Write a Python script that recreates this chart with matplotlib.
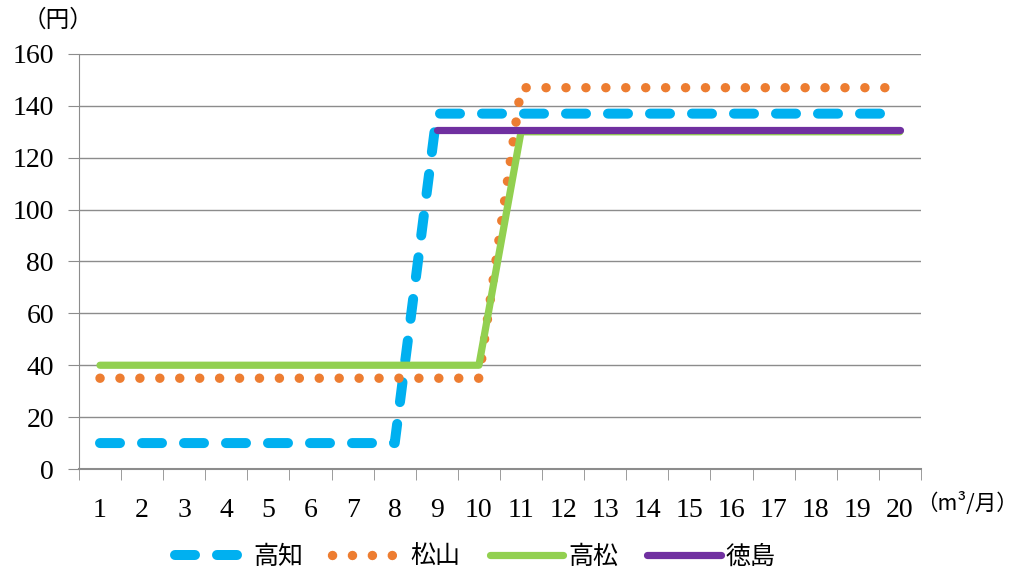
import matplotlib
matplotlib.use("Agg")
import matplotlib.pyplot as plt
import numpy as np

plt.rcParams['font.family'] = ['Liberation Serif', 'Noto Sans CJK JP', 'DejaVu Sans']

# usage (m3/month) and unit price (yen)
usage = list(range(1, 21))
kochi = [10, 10, 10, 10, 10, 10, 10, 10, 137, 137, 137, 137, 137, 137, 137, 137, 137, 137, 137, 137]
matsuyama = [35, 35, 35, 35, 35, 35, 35, 35, 35, 35, 147, 147, 147, 147, 147, 147, 147, 147, 147, 147]
takamatsu = [40, 40, 40, 40, 40, 40, 40, 40, 40, 40, 130, 130, 130, 130, 130, 130, 130, 130, 130, 130]
tokushima_x = list(range(9, 21))
tokushima = [130.5] * 12
labels = ['高知', '松山', '高松', '徳島']

fig = plt.figure(figsize=(10.24, 5.73), dpi=100)
ax = fig.add_axes([0.0771, 0.1815, 0.8223, 0.7243])

grid_c = '#8c8c8c'
ax.plot(usage, kochi, color='#00b0f0', lw=7.2, linestyle=(0, (2.0, 2.2)),
        dash_capstyle='round', solid_capstyle='round', label=labels[0], zorder=3)
ax.plot(usage, matsuyama, color='#ed7d31', lw=6.8, linestyle=(0, (0.01, 2.1)),
        dash_capstyle='round', label=labels[1], zorder=4)
ax.plot(usage, takamatsu, color='#92d050', lw=5.2, solid_capstyle='round',
        label=labels[2], zorder=5)
ax.plot(tokushima_x, tokushima, color='#7030a0', lw=5.2, solid_capstyle='round',
        label=labels[3], zorder=6)

ax.set_xlim(0.5, 20.5)
ax.set_ylim(0, 160)
ax.set_yticks(np.arange(0, 161, 20))
ax.yaxis.grid(True, color=grid_c, lw=1)
ax.set_axisbelow(True)

ax.set_xticks(usage)
ax.set_xticklabels([str(u) for u in usage])
ax.set_xticks(np.arange(0.5, 21, 1), minor=True)
ax.tick_params(axis='x', which='major', length=0, pad=21, labelsize=20)
ax.tick_params(axis='x', which='minor', length=8, color=grid_c, direction='out')
ax.tick_params(axis='y', length=8, color=grid_c, direction='out', pad=10, labelsize=20)

for s in ['top', 'right']:
    ax.spines[s].set_visible(False)
ax.spines['left'].set_color(grid_c)
ax.spines['bottom'].set_color(grid_c)
ax.spines['bottom'].set_linewidth(1.5)

fig.text(0.022, 0.965, '（円）', fontsize=17, ha='left', va='center',
         family=['Noto Sans CJK JP', 'DejaVu Sans'])
fig.text(0.994, 0.122, '（m³/月）', fontsize=15.5, ha='right', va='center',
         family=['Noto Sans CJK JP', 'DejaVu Sans'])

leg = fig.legend(loc='center', bbox_to_anchor=(0.464, 0.028), ncol=4, frameon=False,
                 handlelength=2.95, handletextpad=0.2, columnspacing=1.15,
                 prop={'family': 'Noto Sans CJK JP', 'size': 18})

fig.savefig('out.png', dpi=100)
